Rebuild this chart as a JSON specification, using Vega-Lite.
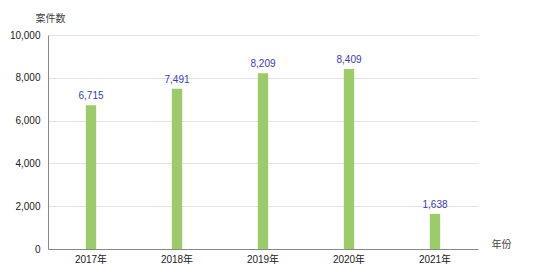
{
  "$schema": "https://vega.github.io/schema/vega-lite/v6.json",
  "width": 430,
  "height": 214,
  "autosize": "none",
  "padding": {"left": 48, "top": 35, "right": 61, "bottom": 23},
  "background": "#ffffff",
  "config": {
    "font": "Liberation Sans, Noto Sans CJK JP",
    "view": {"stroke": null}
  },
  "data": {
    "values": [
      {"year": "2017年", "count": 6715},
      {"year": "2018年", "count": 7491},
      {"year": "2019年", "count": 8209},
      {"year": "2020年", "count": 8409},
      {"year": "2021年", "count": 1638}
    ]
  },
  "encoding": {
    "x": {
      "field": "year", "type": "nominal", "sort": null,
      "scale": {"paddingInner": 0.88, "paddingOuter": 0.44},
      "axis": {
        "title": "年份", "titleFont": "Noto Sans CJK JP", "titleFontWeight": "normal", "titleFontSize": 10,
        "titleColor": "#444444", "titleAnchor": "end", "titleAlign": "left", "titleBaseline": "middle",
        "titleX": 443, "titleY": -5,
        "labelAngle": 0, "labelPadding": 5, "ticks": false, "domainColor": "#888888",
        "labelFont": "Liberation Sans, Noto Sans CJK JP", "labelFontSize": 10, "labelColor": "#222222"
      }
    },
    "y": {
      "field": "count", "type": "quantitative",
      "scale": {"domain": [0, 10000]},
      "axis": {
        "title": "案件数", "titleAngle": 0, "titleFont": "Noto Sans CJK JP", "titleFontWeight": "normal",
        "titleFontSize": 10, "titleColor": "#444444", "titleAlign": "center", "titleBaseline": "middle",
        "titleX": 2, "titleY": -17,
        "values": [0, 2000, 4000, 6000, 8000, 10000], "format": ",.0f",
        "labelOverlap": false, "labelFlush": false,
        "labelFont": "Liberation Sans", "labelFontSize": 10, "labelColor": "#222222",
        "ticks": false, "labelPadding": 8, "domainColor": "#888888",
        "gridColor": "#e3e3e3"
      }
    }
  },
  "layer": [
    {"mark": {"type": "bar", "color": "#9dca6b"}},
    {
      "mark": {"type": "text", "dy": -9, "color": "#3a3ab8", "font": "Liberation Sans", "fontSize": 10},
      "encoding": {"text": {"field": "count", "type": "quantitative", "format": ","}}
    }
  ]
}
